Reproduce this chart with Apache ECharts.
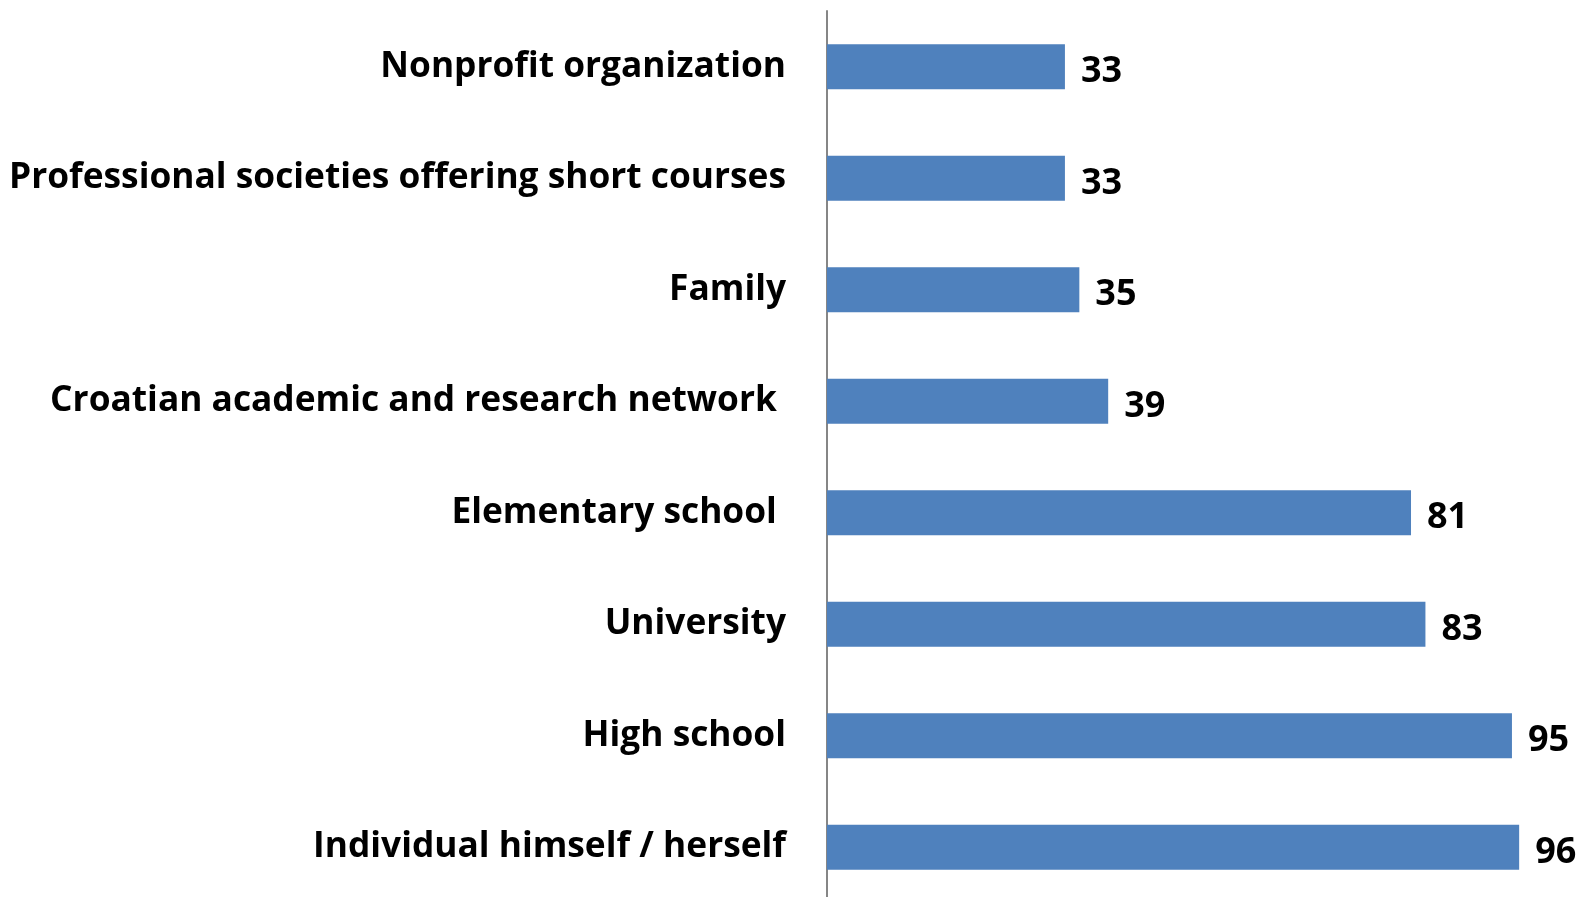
<!DOCTYPE html>
<html>
<head>
<meta charset="utf-8">
<script src="https://cdn.jsdelivr.net/npm/echarts@6/dist/echarts.min.js"></script>
<style>
    html, body { margin: 0; padding: 0; background: #fff; }
    #main { width: 1583px; height: 897px; }
</style>
</head>
<body>
<div id="main"></div>
<script type="text/javascript">
    // categories from bottom to top (ECharts draws category axis upwards)
    var categories = [
        'Individual himself / herself',
        'High school',
        'University',
        'Elementary school ',
        'Croatian academic and research network ',
        'Family',
        'Professional societies offering short courses',
        'Nonprofit organization'
    ];
    var values = [96, 95, 83, 81, 39, 35, 33, 33];

    var myChart = echarts.init(document.getElementById('main'));
    var labelFont = '"Open Sans", "Noto Sans", sans-serif';

    var option = {
        backgroundColor: '#ffffff',
        animation: false,
        grid: {
            left: 827,
            width: 721,
            top: 11,
            height: 892,
            outerBoundsMode: 'none'
        },
        xAxis: {
            type: 'value',
            min: 0,
            max: 100,
            show: false
        },
        yAxis: {
            type: 'category',
            data: categories,
            axisLine: {
                show: true,
                lineStyle: { color: '#868686', width: 2 }
            },
            axisTick: { show: false },
            axisLabel: {
                margin: 41,
                padding: [10, 0, 0, 0],
                color: '#000',
                fontSize: 35.3,
                fontWeight: 'bold',
                fontFamily: labelFont
            }
        },
        series: [
            {
                type: 'bar',
                data: values,
                barWidth: 45,
                itemStyle: {
                    color: '#4F81BD'
                },
                label: {
                    show: true,
                    position: 'right',
                    distance: 16,
                    offset: [0, 5],
                    color: '#000',
                    fontSize: 36,
                    fontWeight: 'bold',
                    fontFamily: labelFont
                }
            }
        ]
    };
    myChart.setOption(option);
</script>
</body>
</html>
